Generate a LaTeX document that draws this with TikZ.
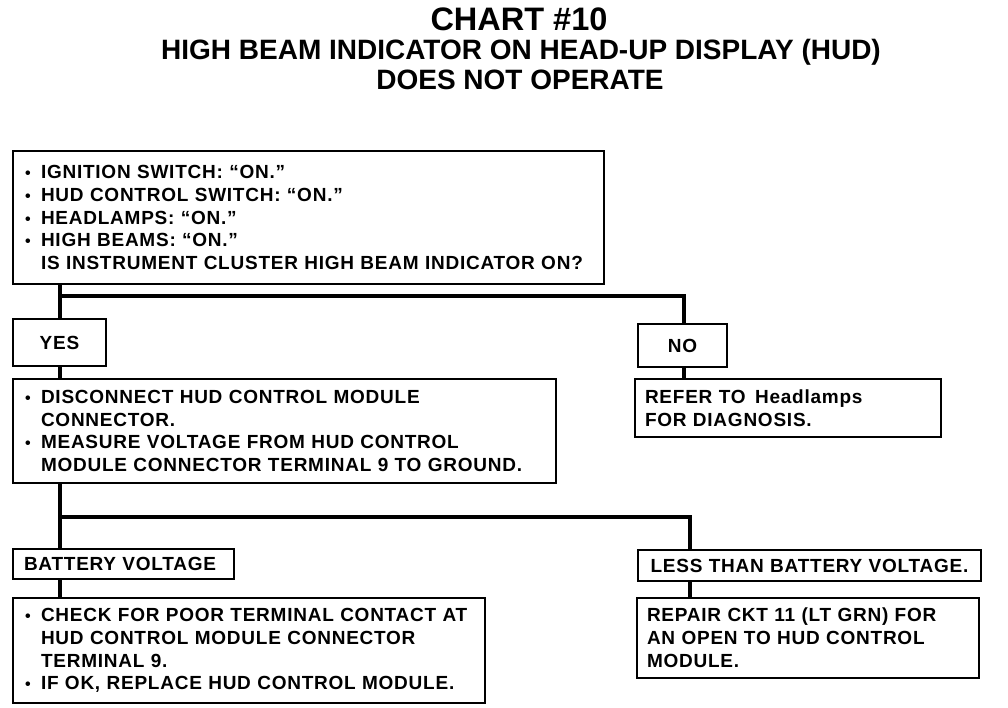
\documentclass[tikz,border=0pt]{standalone}
\usepackage{fontspec}
\setmainfont{Liberation Sans}
\newfontfamily\bodyfont{Liberation Sans}[LetterSpace=4]
\begin{document}
\begin{tikzpicture}[x=1pt,y=-1pt,
  box/.style={draw, line width=2pt, inner xsep=10pt, inner ysep=0pt, anchor=north west,
    align=left, font=\bodyfont\fontsize{19}{22.8}\selectfont\bfseries},
  conn/.style={line width=4.8pt},
  ttl/.style={font=\bfseries, inner sep=0pt}]
\useasboundingbox (0,0) rectangle (1008,708);
\newcommand{\bul}{\makebox[18pt][l]{\hspace*{2pt}\fontsize{16}{16}\selectfont •}}
\newcommand{\ind}{\hspace*{18pt}}
% titles
\node[ttl, font=\fontsize{32.5}{33}\selectfont\bfseries] (t1) at (519,19) {CHART \#10};
\node[ttl, font=\fontsize{28}{29}\selectfont\bfseries] (t2) at (521,52) {HIGH BEAM INDICATOR ON HEAD-UP DISPLAY (HUD)};
\node[ttl, font=\fontsize{28}{29}\selectfont\bfseries] (t3) at (520,80) {DOES NOT OPERATE};
% boxes
\node[box, text width=571pt, minimum height=133pt] (b1) at (12,150)
 {\bul IGNITION SWITCH: “ON.”\\ \bul HUD CONTROL SWITCH: “ON.”\\ \bul HEADLAMPS: “ON.”\\ \bul HIGH BEAMS: “ON.”\\ \ind IS INSTRUMENT CLUSTER HIGH BEAM INDICATOR ON?};
\node[box, text width=73pt, minimum height=47pt, align=center] (yes) at (12,318) {YES};
\node[box, text width=69pt, minimum height=43pt, align=center] (no) at (637,323) {NO};
\node[box, text width=523pt, minimum height=104pt] (b2) at (12,378)
 {\bul DISCONNECT HUD CONTROL MODULE\\ \ind CONNECTOR.\\ \bul MEASURE VOLTAGE FROM HUD CONTROL\\ \ind MODULE CONNECTOR TERMINAL 9 TO GROUND.};
\node[box, text width=286pt, minimum height=58pt] (ref) at (634,378)
 {REFER TO \,Headlamps\\ FOR DIAGNOSIS.};
\node[box, minimum height=30pt, inner xsep=11pt, text width=199pt] (bat) at (12,548) {BATTERY VOLTAGE};
\node[box, text width=323pt, minimum height=31pt, align=center] (less) at (637,549) {LESS THAN BATTERY VOLTAGE.};
\node[box, text width=452pt, minimum height=105pt] (chk) at (12,597)
 {\bul CHECK FOR POOR TERMINAL CONTACT AT\\ \ind HUD CONTROL MODULE CONNECTOR\\ \ind TERMINAL 9.\\ \bul IF OK, REPLACE HUD CONTROL MODULE.};
\node[box, text width=322pt, minimum height=80pt] (rep) at (636,597)
 {REPAIR CKT 11 (LT GRN) FOR\\ AN OPEN TO HUD CONTROL\\ MODULE.};
% junctions
\coordinate (j1) at (60,296);
\coordinate (j1r) at (684,296);
\coordinate (j2) at (60,517);
\coordinate (j2r) at (690,517);
% connectors
\draw[conn] (b1.south -| j1) -- (yes.north -| j1);
\draw[conn] (j1) -- (j1r) -- (no.north -| j1r);
\draw[conn] (yes.south -| j1) -- (b2.north -| j1);
\draw[conn] (no.south -| j1r) -- (ref.north -| j1r);
\draw[conn] (b2.south -| j2) -- (bat.north -| j2);
\draw[conn] (j2) -- (j2r) -- (less.north -| j2r);
\draw[conn] (bat.south -| j2) -- (chk.north -| j2);
\draw[conn] (less.south -| j2r) -- (rep.north -| j2r);
\end{tikzpicture}
\end{document}
